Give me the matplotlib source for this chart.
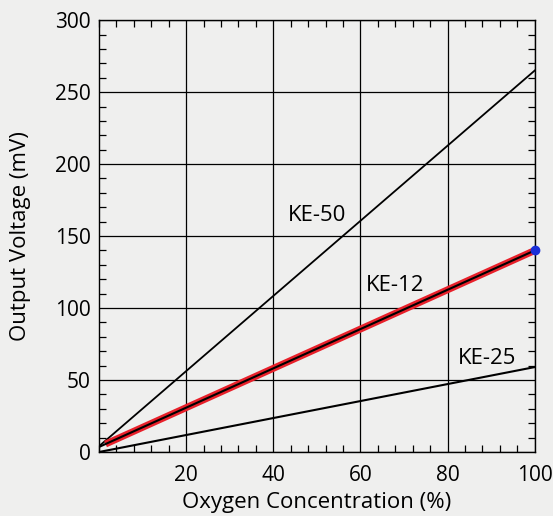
"""
Sensor output voltage vs oxygen concentration for KE series sensors.
"""

import matplotlib.pyplot as plt
import numpy as np

plt.rcParams["font.family"] = ["Open Sans", "DejaVu Sans"]

oxygen = [0, 100]
ke50 = [4, 265]
ke12 = [3.5, 140]
ke25 = [0, 59]

labels = ["KE-50", "KE-12", "KE-25"]
label_pos = [(50, 164), (68, 116), (89, 65)]

paper = "#efefee"

fig = plt.figure(figsize=(5.53, 5.16), dpi=100, facecolor=paper)
ax = fig.add_axes([0.179, 0.124, 0.788, 0.837], facecolor=paper)

ax.plot(oxygen, ke50, color="black", lw=1.3)
ax.plot(oxygen, ke25, color="black", lw=1.5)
ax.plot([1.5, 100], [ke12[0] + 0.015 * (ke12[1] - ke12[0]), ke12[1]],
        color="#e8202a", lw=5, solid_capstyle="butt", zorder=3)
ax.plot(oxygen, ke12, color="black", lw=1.5, zorder=4)
ax.plot([oxygen[-1]], [ke12[-1]], "o", color="#1a2fd8", ms=6, zorder=5,
        clip_on=False)

for text, (x, y) in zip(labels, label_pos):
    ax.text(x, y, text, fontsize=16, ha="center", va="center")

ax.set_xlim(0, 100)
ax.set_ylim(0, 300)
ax.set_xticks([20, 40, 60, 80, 100])
ax.set_yticks(np.arange(0, 301, 50))
ax.set_xticks(np.arange(0, 101, 4), minor=True)
ax.set_yticks(np.arange(0, 301, 10), minor=True)
ax.grid(True, which="major", color="black", lw=0.9)

ax.tick_params(which="both", direction="in", top=True, right=True,
               labelsize=15, color="black")
ax.tick_params(which="major", length=0)
ax.tick_params(axis="y", which="major", pad=6)
ax.tick_params(axis="x", which="major", pad=9)
ax.tick_params(which="minor", length=5, width=0.9)
for s in ax.spines.values():
    s.set_linewidth(1.0)

ax.set_xlabel("Oxygen Concentration (%)", fontsize=16, labelpad=5)
ax.set_ylabel("Output Voltage (mV)", fontsize=16, labelpad=17)

fig.savefig("out.png", dpi=100, facecolor=paper)
